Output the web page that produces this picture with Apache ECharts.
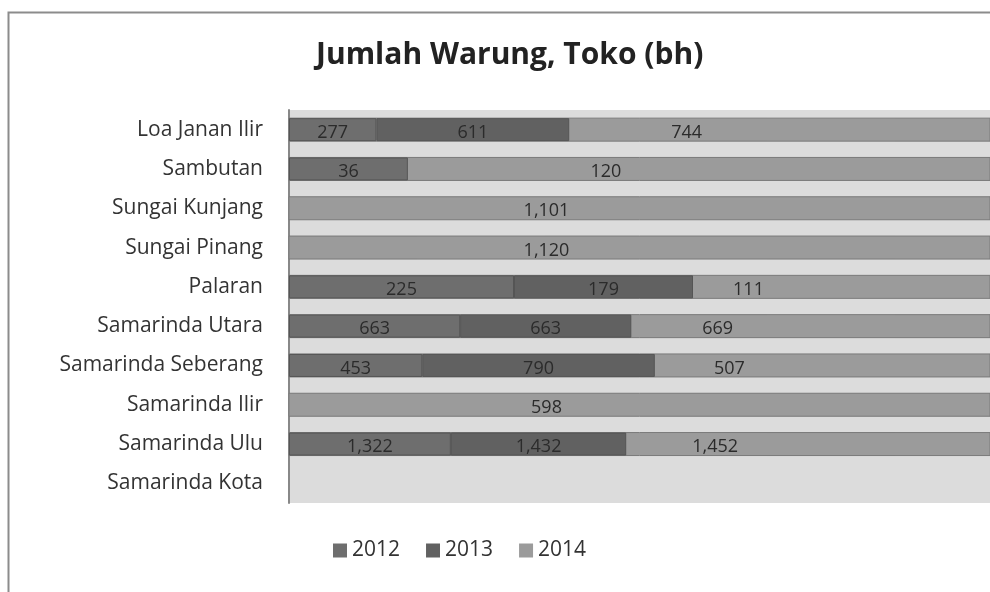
<!DOCTYPE html>
<html>
<head>
<meta charset="utf-8">
<title>Jumlah Warung, Toko (bh)</title>
<script src="https://cdn.jsdelivr.net/npm/echarts@6/dist/echarts.min.js"></script>
<style>
  html, body { margin: 0; padding: 0; background: #fff; }
  #chart { width: 990px; height: 592px; }
</style>
</head>
<body>
<div id="chart"></div>
<script>
// kecamatan, urut dari atas ke bawah
const categories = ['Loa Janan Ilir', 'Sambutan', 'Sungai Kunjang', 'Sungai Pinang', 'Palaran',
  'Samarinda Utara', 'Samarinda Seberang', 'Samarinda Ilir', 'Samarinda Ulu', 'Samarinda Kota']
const years = ['2012', '2013', '2014']
const v2012 = [277, 36, null, null, 225, 663, 453, null, 1322, null]
const v2013 = [611, null, null, null, 179, 663, 790, null, 1432, null]
const v2014 = [744, 120, 1101, 1120, 111, 669, 507, 598, 1452, null]

const raw = [v2012, v2013, v2014]
const colors = ['#6e6e6e', '#616161', '#9b9b9b']
const font = '"Open Sans", sans-serif'

// total per baris -> persen (100% stacked)
const totals = categories.map((c, i) => raw.reduce((s, arr) => s + (arr[i] || 0), 0))
const pct = raw.map(arr => arr.map((v, i) => (v == null ? '-' : v / totals[i] * 100)))
let lastRow = 0
totals.forEach((t, i) => { if (t > 0) lastRow = i })

const chart = echarts.init(document.getElementById('chart'))
const plotLeft = 289
const fullWidth = 515 // lebar 100%, sisanya terpotong di kanan
const xMax = 100 * (990 - plotLeft) / fullWidth

const series = years.map((y, s) => ({
  name: y,
  type: 'bar',
  stack: 'total',
  barWidth: 23,
  data: s === 0 ? pct[s].slice(0, lastRow + 1) : pct[s],
  // batang abu-abu terang sampai tepi kanan (segmen 2014 ikut memakai ini)
  showBackground: s === 0,
  backgroundStyle: { color: colors[2], borderColor: '#7a7a7a', borderWidth: 1 },
  itemStyle: s === 2
    ? { color: 'rgba(0,0,0,0)', borderWidth: 0 }
    : { color: colors[s], borderColor: '#555', borderWidth: 1 },
  label: {
    show: true,
    position: 'inside',
    offset: [0, 3],
    color: '#2b2b2b',
    fontFamily: font,
    fontSize: 18,
    formatter: p => {
      const v = raw[s][p.dataIndex]
      return v == null ? '' : v.toLocaleString('en-US')
    }
  }
}))

chart.setOption({
  animation: false,
  graphic: [{
    type: 'rect',
    shape: { x: 8.5, y: 12.5, width: 1100, height: 700 },
    style: { fill: null, stroke: '#8c8c8c', lineWidth: 2 },
    silent: true
  }],
  title: {
    text: 'Jumlah Warung, Toko (bh)',
    left: 311,
    top: 35,
    textStyle: { fontFamily: font, fontSize: 30, fontWeight: 'bold', color: '#222' }
  },
  legend: {
    data: years.map((y, s) => ({ name: y, itemStyle: { color: colors[s], borderWidth: 0 } })),
    left: 333,
    top: 540,
    icon: 'rect',
    itemWidth: 14,
    itemHeight: 14,
    itemGap: 26,
    padding: 0,
    textStyle: { fontFamily: font, fontSize: 21, color: '#333' }
  },
  grid: {
    left: plotLeft,
    right: 0,
    top: 110,
    bottom: 89,
    show: true,
    backgroundColor: '#dcdcdc',
    borderWidth: 0,
    containLabel: false
  },
  xAxis: {
    type: 'value',
    min: 0,
    max: xMax,
    show: false
  },
  yAxis: {
    type: 'category',
    data: categories,
    inverse: true,
    axisLine: { show: true, lineStyle: { color: '#888', width: 2 } },
    axisTick: { show: false },
    axisLabel: { margin: 26, color: '#333', fontFamily: font, fontSize: 21 }
  },
  series: series
})
</script>
</body>
</html>
